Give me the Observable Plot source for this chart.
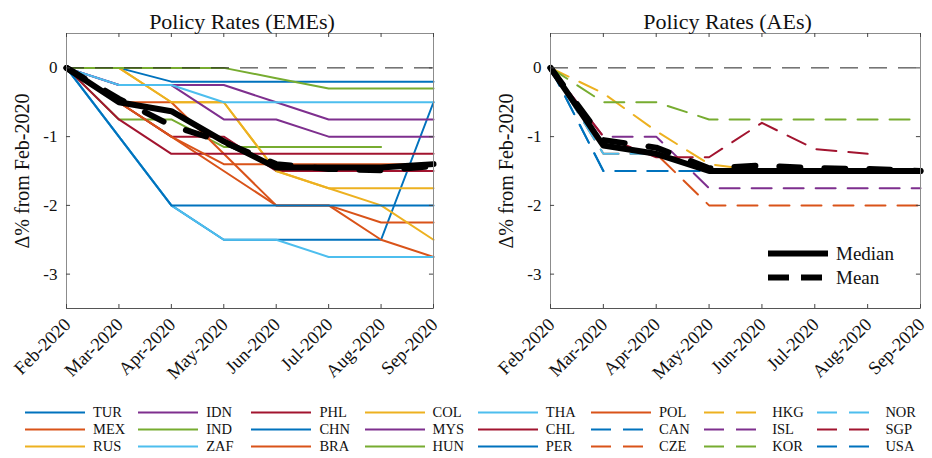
<!DOCTYPE html>
<html>
<head>
<meta charset="utf-8">
<script src="https://cdn.jsdelivr.net/npm/d3@7"></script>
<script src="https://cdn.jsdelivr.net/npm/@observablehq/plot@0.6"></script>
<style>
  body { margin: 0; background: #fff; }
  #wrap { position: relative; width: 932px; height: 458px; font-family: "Liberation Serif", serif; background: #fff; overflow: hidden; }
  #charts { display: flex; position: absolute; left: 0; top: 0; }
  #legend { position: absolute; left: 0; top: 0; width: 932px; height: 458px; pointer-events: none; }
  .item { position: absolute; height: 17px; line-height: 17px; font-size: 14.5px; color: #111; white-space: nowrap; display: flex; align-items: center; }
  .item svg { display: block; }
  .item span { margin-left: 8px; }
</style>
</head>
<body>
<div id="wrap">
  <div id="charts"></div>
  <div id="legend"></div>
</div>
<script>
// ---------- data ----------
const months = ["Feb-2020", "Mar-2020", "Apr-2020", "May-2020", "Jun-2020", "Jul-2020", "Aug-2020", "Sep-2020"];
const yTicks = [0, -1, -2, -3];
const yTickLabels = ["0", "-1", "-2", "-3"];
const matlabColors = ["#0072BD", "#D95319", "#EDB120", "#7E2F8E", "#77AC30", "#4DBEEE", "#A2142F"];

const emeNames = ["TUR", "MEX", "RUS", "IDN", "IND", "ZAF", "PHL", "CHN", "BRA", "COL", "MYS", "HUN", "THA", "CHL", "PER", "POL"];
const TUR = [0, -1, -2, -2.5, -2.5, -2.5, -2.5, -0.5];
const MEX = [0, -0.5, -1, -1.5, -2, -2, -2.5, -2.75];
const RUS = [0, 0, -0.5, -0.5, -1.5, -1.75, -1.75, -1.75];
const IDN = [0, -0.25, -0.25, -0.25, -0.5, -0.75, -0.75, -0.75];
const IND = [0, -0.75, -0.75, -1.15, -1.15, -1.15, -1.15, null];
const ZAF = [0, -1, -2, -2.5, -2.5, -2.75, -2.75, -2.75];
const PHL = [0, -0.5, -1, -1, -1.5, -1.5, -1.5, -1.5];
const CHN = [0, 0, -0.2, -0.2, -0.2, -0.2, -0.2, -0.2];
const BRA = [0, -0.5, -0.5, -1.25, -2, -2, -2.25, -2.25];
const COL = [0, 0, -0.5, -0.5, -1.5, -1.75, -2, -2.5];
const MYS = [0, -0.25, -0.25, -0.75, -0.75, -1, -1, -1];
const HUN = [0, 0, 0, 0, -0.15, -0.3, -0.3, -0.3];
const THA = [0, -0.25, -0.25, -0.5, -0.5, -0.5, -0.5, -0.5];
const CHL = [0, -0.75, -1.25, -1.25, -1.25, -1.25, -1.25, -1.25];
const PER = [0, -1, -2, -2, -2, -2, -2, -2];
const POL = [0, -0.5, -1, -1.4, -1.4, -1.4, -1.4, -1.4];
const emeMedian = [0, -0.5, -0.63, -1.07, -1.45, -1.45, -1.45, -1.4];
const emeMean = [0, -0.45, -0.84, -1.08, -1.4, -1.47, -1.49, -1.43];

const aeNames = ["CAN", "CZE", "HKG", "ISL", "KOR", "NOR", "SGP", "USA"];
const CAN = [0, -1.5, -1.5, -1.5, -1.5, -1.5, -1.5, -1.5];
const CZE = [0, -1.25, -1.25, -2, -2, -2, -2, -2];
const HKG = [0, -0.37, -0.92, -1.4, -1.5, -1.5, -1.5, -1.5];
const ISL = [0, -1, -1, -1.75, -1.75, -1.75, -1.75, -1.75];
const KOR = [0, -0.5, -0.5, -0.75, -0.75, -0.75, -0.75, -0.75];
const NOR = [0, -1.25, -1.25, -1.5, -1.5, -1.5, -1.5, -1.5];
const SGP = [0, -1, -1.3, -1.3, -0.8, -1.18, -1.25, null];
const USA = [0, -1.5, -1.5, -1.5, -1.5, -1.5, -1.5, -1.5];
const aeMedian = [0, -1.13, -1.25, -1.5, -1.5, -1.5, -1.5, -1.5];
const aeMean = [0, -1.05, -1.16, -1.46, -1.42, -1.46, -1.47, -1.5];

const emeSeries = {TUR, MEX, RUS, IDN, IND, ZAF, PHL, CHN, BRA, COL, MYS, HUN, THA, CHL, PER, POL};
const aeSeries = {CAN, CZE, HKG, ISL, KOR, NOR, SGP, USA};

const statLabels = ["Median", "Mean"];

// ---------- drawing ----------
const FONT = "Liberation Serif, serif";
const xIdx = months.map((_, i) => i);
const lastIdx = months.length - 1;

function panel({names, series, dashed, median, mean, title, marginLeft, marginRight}) {
  const xy = {x: (d, j) => j, y: d => d};
  const marks = [
    ...names.map((n, i) => Plot.line(series[n], {
      ...xy, stroke: matlabColors[i % 7], strokeWidth: 2,
      strokeDasharray: dashed ? "20,12" : null
    })),
    Plot.ruleY([0], {stroke: "#222", strokeWidth: 1, strokeDasharray: "18,11"}),
    Plot.line(median, {...xy, stroke: "black", strokeWidth: 6}),
    Plot.line(mean, {...xy, stroke: "black", strokeWidth: 6, strokeDasharray: "21,24"}),
    Plot.frame({stroke: "#8c8c8c", strokeWidth: 1}),
    Plot.ruleY([-3.5], {stroke: "#555", strokeWidth: 1}),
    // inward tick marks
    Plot.ruleX(xIdx, {x: d => d, y1: -3.5, y2: -3.442, stroke: "#444"}),
    Plot.ruleX(xIdx, {x: d => d, y1: 0.5, y2: 0.442, stroke: "#444"}),
    Plot.ruleY(yTicks, {y: d => d, x1: 0, x2: 0.077, stroke: "#444"}),
    Plot.ruleY(yTicks, {y: d => d, x1: lastIdx, x2: lastIdx - 0.077, stroke: "#444"}),
    Plot.text(yTicks, {x: 0, y: d => d, text: (d, i) => yTickLabels[i], textAnchor: "end", dx: -9, fontSize: 17, fill: "#111"}),
    Plot.text(months, {x: (d, i) => i, y: -3.5, rotate: -45, textAnchor: "end", lineAnchor: "middle", dx: 1, dy: 13, fontSize: 18.5, fill: "#111"}),
    Plot.text([title], {frameAnchor: "top", lineAnchor: "bottom", dy: -5, dx: -8, fontSize: 22, fill: "#111"}),
    Plot.text(["\u0394% from Feb-2020"], {frameAnchor: "left", rotate: -90, textAnchor: "middle", lineAnchor: "middle", dx: -44, fontSize: 20, fill: "#111"})
  ];
  return Plot.plot({
    width: 466, height: 400,
    marginLeft, marginRight, marginTop: 33, marginBottom: 92,
    x: {domain: [0, lastIdx], axis: null},
    y: {domain: [-3.5, 0.5], axis: null},
    style: {fontFamily: FONT, background: "white", overflow: "visible", color: "#111"},
    marks
  });
}

const left = panel({names: emeNames, series: emeSeries, dashed: false, median: emeMedian, mean: emeMean,
  title: "Policy Rates (EMEs)", marginLeft: 66, marginRight: 33});
const right = panel({names: aeNames, series: aeSeries, dashed: true, median: aeMedian, mean: aeMean,
  title: "Policy Rates (AEs)", marginLeft: 84, marginRight: 12});
document.getElementById("charts").append(left, right);

// Median / Mean legend inside AE panel
const legendBox = document.getElementById("legend");
statLabels.forEach((lab, i) => {
  const dash = i === 1 ? "21,12" : null;
  const it = document.createElement("div");
  it.className = "item";
  it.style.left = "768px";
  it.style.top = (245 + i * 24) + "px";
  it.style.fontSize = "19px";
  it.innerHTML = `<svg width="60" height="17"><line x1="0" x2="60" y1="8.5" y2="8.5" stroke="black" stroke-width="6" ${dash ? `stroke-dasharray="${dash}"` : ""}/></svg><span>${lab}</span>`;
  legendBox.append(it);
});

// Bottom legend: 8 columns x 3 rows, column-major
const allNames = [...emeNames, ...aeNames];
allNames.forEach((n, k) => {
  const isAE = k >= emeNames.length;
  const ci = isAE ? (k - emeNames.length) % 7 : k % 7;
  const col = Math.floor(k / 3), row = k % 3;
  const it = document.createElement("div");
  it.className = "item";
  it.style.left = (25 + col * 113.2) + "px";
  it.style.top = (404 + row * 17) + "px";
  it.innerHTML = `<svg width="60" height="17"><line x1="0" x2="60" y1="8.5" y2="8.5" stroke="${matlabColors[ci]}" stroke-width="2" ${isAE ? 'stroke-dasharray="20,12"' : ""}/></svg><span>${n}</span>`;
  legendBox.append(it);
});
</script>
</body>
</html>
